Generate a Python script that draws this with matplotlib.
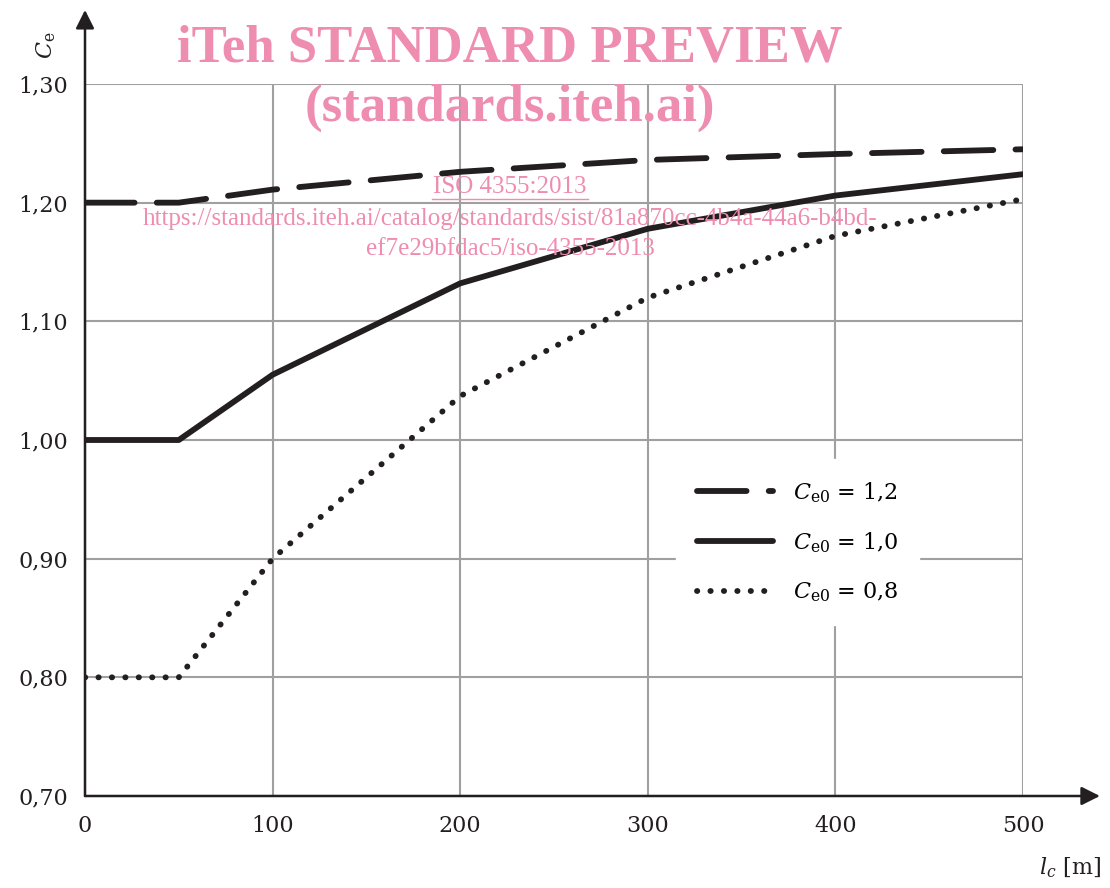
import matplotlib.pyplot as plt
from matplotlib.lines import Line2D

# Data
lc = [0, 50, 100, 200, 300, 400, 500]
ce_12 = [1.200, 1.200, 1.211, 1.226, 1.236, 1.241, 1.245]
ce_10 = [1.000, 1.000, 1.055, 1.132, 1.178, 1.206, 1.224]
ce_08 = [0.800, 0.800, 0.900, 1.037, 1.120, 1.172, 1.203]
x_ticks = [0, 100, 200, 300, 400, 500]
y_ticks = [0.70, 0.80, 0.90, 1.00, 1.10, 1.20, 1.30]
labels = ['$C_{\\mathrm{e0}}$ = 1,2', '$C_{\\mathrm{e0}}$ = 1,0', '$C_{\\mathrm{e0}}$ = 0,8']

plt.rcParams['font.family'] = 'DejaVu Serif'
plt.rcParams['mathtext.fontset'] = 'dejavuserif'

W, H = 1110, 888
fig = plt.figure(figsize=(W / 100, H / 100), dpi=100)
ax = fig.add_axes([85 / W, (H - 796) / H, (1023 - 85) / W, (796 - 84) / H])

ink = '#231f20'
ax.plot(lc, ce_12, color=ink, lw=4.2, dashes=(8.5, 3.8), solid_capstyle='round',
        dash_capstyle='round', label=labels[0], zorder=3)
ax.plot(lc, ce_10, color=ink, lw=4.2, solid_capstyle='round', label=labels[1], zorder=3)
ax.plot(lc, ce_08, color=ink, lw=4.2, dashes=(0.05, 2.25), dash_capstyle='round',
        label=labels[2], zorder=3)

ax.set_xlim(0, 500)
ax.set_ylim(0.70, 1.30)
ax.set_xticks(x_ticks)
ax.set_yticks(y_ticks)
ax.set_xticklabels([str(v) for v in x_ticks])
ax.set_yticklabels([f'{v:.2f}'.replace('.', ',') for v in y_ticks])
ax.tick_params(length=0, labelsize=16, pad=14, colors=ink)
ax.tick_params(axis='y', pad=12)
ax.grid(True, color='#a0a0a0', lw=1.5)
for s in ['top', 'right', 'left', 'bottom']:
    ax.spines[s].set_visible(False)

# axes with arrows
ax.annotate('', xy=(0, 1.104), xytext=(0, 0), xycoords='axes fraction',
            arrowprops=dict(arrowstyle='-|>', color=ink, lw=1.8, mutation_scale=28,
                            shrinkA=0, shrinkB=0), annotation_clip=False)
ax.annotate('', xy=(1.082, 0), xytext=(0, 0), xycoords='axes fraction',
            arrowprops=dict(arrowstyle='-|>', color=ink, lw=1.8, mutation_scale=28,
                            shrinkA=0, shrinkB=0), annotation_clip=False)

fig.text(46 / W, 1 - 45 / H, '$C_{\\mathrm{e}}$', rotation=90, fontsize=16,
         ha='center', va='center', color=ink)
fig.text(1070 / W, 1 - 868 / H, '$l_c$ [m]', fontsize=16, ha='center', va='center', color=ink)

leg = ax.legend(loc='upper left', bbox_to_anchor=(676 / W, 1 - 459 / H),
                bbox_transform=fig.transFigure, frameon=True, fancybox=False,
                edgecolor='white', framealpha=1, fontsize=16, handlelength=3.4,
                labelspacing=1.15, borderpad=0.95, borderaxespad=0, handletextpad=0.9)
leg.set_zorder(5)

# watermark
pink = '#ee8db0'
fig.text(510 / W, 1 - 48 / H, 'iTeh STANDARD PREVIEW', family='Liberation Serif',
         weight='bold', fontsize=38, color=pink, ha='center', va='center')
fig.text(510 / W, 1 - 108 / H, '(standards.iteh.ai)', family='Liberation Serif',
         weight='bold', fontsize=38, color=pink, ha='center', va='center')
fig.text(510 / W, 1 - 187 / H, 'ISO 4355:2013', family='Liberation Serif',
         fontsize=18, color=pink, ha='center', va='center')
fig.add_artist(Line2D([432 / W, 588 / W], [1 - 199 / H, 1 - 199 / H], color=pink, lw=1))
fig.text(510 / W, 1 - 219 / H,
         'https://standards.iteh.ai/catalog/standards/sist/81a870cc-4b4a-44a6-b4bd-',
         family='Liberation Serif', fontsize=18, color=pink, ha='center', va='center')
fig.text(510 / W, 1 - 249 / H, 'ef7e29bfdac5/iso-4355-2013', family='Liberation Serif',
         fontsize=18, color=pink, ha='center', va='center')

fig.savefig('out.png', dpi=100)
